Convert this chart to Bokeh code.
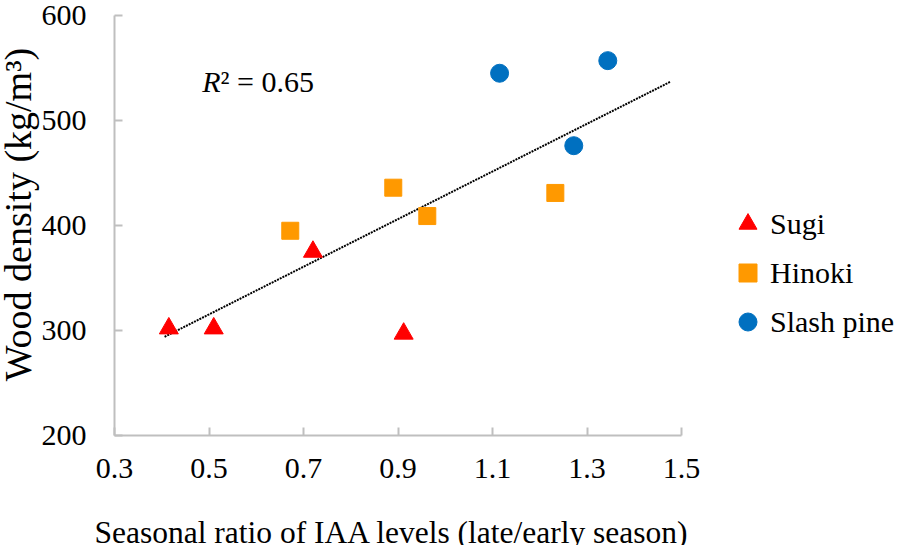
import math
from bokeh.plotting import figure
from bokeh.models import Range1d, Legend, LegendItem, Label, FixedTicker
from bokeh.embed import file_html
from bokeh.resources import INLINE

# ---- data ----
sugi_x = [0.415, 0.51, 0.72, 0.912]
sugi_y = [302, 302, 375, 297]
hinoki_x = [0.672, 0.89, 0.962, 1.233]
hinoki_y = [395, 436, 409, 431]
pine_x = [1.115, 1.272, 1.344]
pine_y = [545, 476, 557]
trend_x = [0.406, 1.477]
trend_y = [294, 537]
x_ticks = [0.3, 0.5, 0.7, 0.9, 1.1, 1.3, 1.5]
y_ticks = [200, 300, 400, 500, 600]
series_names = ["Sugi", "Hinoki", "Slash pine"]
r2_text = "0.65"
x_title = "Seasonal ratio of IAA levels (late/early season)"
y_title = "Wood density (kg/m\u00b3)"

FONT = "Liberation Serif"
AXIS_COLOR = "#BFBFBF"

# ---- layout (pixels) ----
W, H = 898, 545
AX_L, AX_R = 114, 681      # pixel x of x=0.3 and x=1.5
AX_B, AX_T = 435, 15       # pixel y of y=200 and y=600
XMIN, XMAX = x_ticks[0], x_ticks[-1]
YMIN, YMAX = y_ticks[0], y_ticks[-1]
sx = (AX_R - AX_L) / (XMAX - XMIN)
sy = (AX_B - AX_T) / (YMAX - YMIN)


def dx(px):
    return XMIN + (px - AX_L) / sx


def dy(py):
    return YMIN + (AX_B - py) / sy


p = figure(width=W, height=H, output_backend="svg", toolbar_location=None,
           x_range=Range1d(dx(0), dx(W)), y_range=Range1d(dy(H), dy(0)),
           min_border_left=0, min_border_right=0,
           min_border_top=0, min_border_bottom=0)
p.outline_line_color = None
p.grid.visible = False
p.background_fill_color = "white"
p.border_fill_color = "white"

for ax in (p.xaxis[0], p.yaxis[0]):
    ax.axis_line_color = AXIS_COLOR
    ax.axis_line_width = 2
    ax.major_tick_line_color = AXIS_COLOR
    ax.major_tick_line_width = 2
    ax.major_tick_in = 8
    ax.major_tick_out = 0
    ax.minor_tick_line_color = None
    ax.major_label_text_font = FONT
    ax.major_label_text_font_size = "30px"
    ax.major_label_text_color = "black"

p.xaxis.ticker = FixedTicker(ticks=x_ticks)
p.yaxis.ticker = FixedTicker(ticks=y_ticks)
p.xaxis.major_label_overrides = {t: f"{t:.1f}" for t in x_ticks}
p.xaxis.major_label_standoff = 23
p.yaxis.major_label_standoff = 28
p.xaxis.fixed_location = YMIN
p.yaxis.fixed_location = XMIN
p.xaxis.bounds = (XMIN, XMAX)
p.yaxis.bounds = (YMIN, YMAX)

# trend line
p.line(trend_x, trend_y, line_color="black", line_width=2, line_dash="2 1")

r1 = p.scatter(sugi_x, sugi_y, marker="triangle", size=19, color="#FF0000")
r2 = p.scatter(hinoki_x, hinoki_y, marker="square", size=17, color="#FF9900")
r3 = p.scatter(pine_x, pine_y, marker="circle", size=18, color="#0070C0")

legend = Legend(items=[LegendItem(label=series_names[0], renderers=[r1]),
                       LegendItem(label=series_names[1], renderers=[r2]),
                       LegendItem(label=series_names[2], renderers=[r3])],
                location=(725, 201), glyph_width=45, glyph_height=45,
                label_height=45, label_standoff=0, spacing=4,
                padding=0, margin=0, border_line_color=None,
                background_fill_alpha=0, label_text_color="black",
                label_text_font=FONT, label_text_font_size="30px")
p.add_layout(legend, "center")

# axis titles
p.add_layout(Label(x=dx(17), y=dy(214), text=y_title, angle=math.pi / 2,
                   text_align="center", text_baseline="alphabetic",
                   text_font=FONT, text_font_size="38px", text_color="black"))
p.add_layout(Label(x=dx(94), y=dy(532), text=x_title,
                   text_align="left", text_baseline="alphabetic",
                   text_font=FONT, text_font_size="31.5px", text_color="black"))

# R^2 annotation
p.add_layout(Label(x=dx(201.7), y=dy(81), text="R", text_font=FONT,
                   text_font_style="italic", text_font_size="30px",
                   text_baseline="alphabetic", text_align="left", text_color="black"))
p.add_layout(Label(x=dx(220), y=dy(81), text="\u00b2 = " + r2_text, text_font=FONT,
                   text_font_size="30px", text_baseline="alphabetic",
                   text_align="left", text_color="black"))

open("out.html", "w").write(file_html(p, INLINE))
